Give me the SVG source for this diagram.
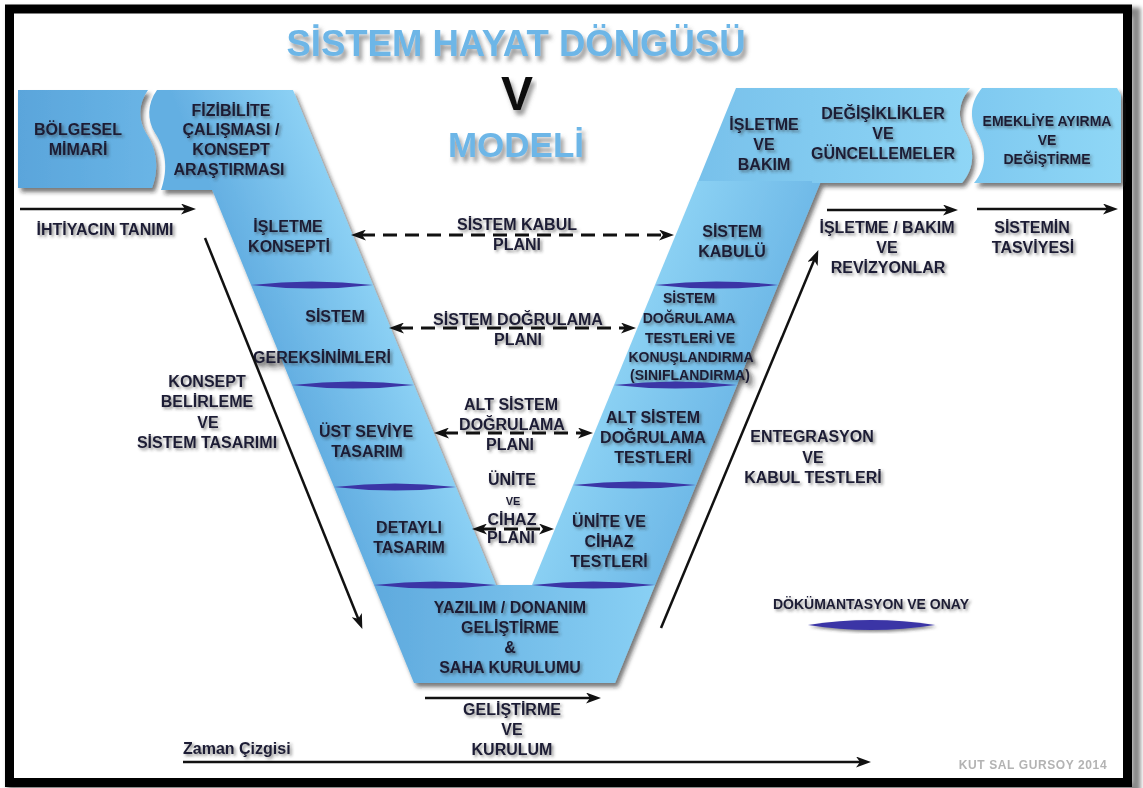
<svg xmlns="http://www.w3.org/2000/svg" width="1143" height="788" viewBox="0 0 1143 788">
  <defs>
    <style>
      .lbl { font-family: "Liberation Sans", Arial, sans-serif; font-weight: bold; font-size: 16px; fill: #1d1d35; text-anchor: middle; }
      .sm { font-size: 14px; }
      .xs { font-size: 11px; }
      .ttl { font-family: "Liberation Sans", Arial, sans-serif; font-weight: bold; text-anchor: middle; fill: #6db6e7; }
      .sep { fill: #3b35a6; }
      .solid { stroke: #111; stroke-width: 2.5; fill: none; marker-end: url(#ah); }
      .dash { stroke: #111; stroke-width: 3; fill: none; stroke-dasharray: 14 8; marker-start: url(#ah); marker-end: url(#ah); }
    </style>
    <filter id="tsh" x="-20%" y="-40%" width="140%" height="180%">
      <feDropShadow dx="2" dy="2" stdDeviation="1.4" flood-color="#333" flood-opacity="0.55"/>
    </filter>
    <filter id="titleSh" x="-10%" y="-30%" width="120%" height="160%">
      <feDropShadow dx="3" dy="5" stdDeviation="2" flood-color="#555" flood-opacity="0.6"/>
    </filter>
    <filter id="shapeSh" x="-5%" y="-5%" width="110%" height="115%">
      <feDropShadow dx="3" dy="4" stdDeviation="2" flood-color="#222" flood-opacity="0.6"/>
    </filter>
    <filter id="frameSh" x="-2%" y="-2%" width="104%" height="104%">
      <feGaussianBlur stdDeviation="2"/>
    </filter>
    <!-- left arm: darker outer edge, lighter inner edge -->
    <linearGradient id="gLeft" gradientUnits="userSpaceOnUse" x1="292" y1="385" x2="396" y2="342">
      <stop offset="0" stop-color="#64afe2"/>
      <stop offset="1" stop-color="#8bd0f4"/>
    </linearGradient>
    <!-- right arm: lighter inner edge, slightly darker outer edge -->
    <linearGradient id="gRight" gradientUnits="userSpaceOnUse" x1="614" y1="385" x2="718" y2="428">
      <stop offset="0" stop-color="#8ad0f3"/>
      <stop offset="1" stop-color="#70bae8"/>
    </linearGradient>
    <linearGradient id="gBottom" gradientUnits="userSpaceOnUse" x1="374" y1="0" x2="655" y2="0">
      <stop offset="0" stop-color="#5faade"/>
      <stop offset="1" stop-color="#89d0f4"/>
    </linearGradient>
    <linearGradient id="gBand" gradientUnits="userSpaceOnUse" x1="700" y1="0" x2="975" y2="0">
      <stop offset="0" stop-color="#78c1eb"/>
      <stop offset="1" stop-color="#8fd6f6"/>
    </linearGradient>
    <linearGradient id="gEnd" gradientUnits="userSpaceOnUse" x1="975" y1="0" x2="1121" y2="0">
      <stop offset="0" stop-color="#7fc9f0"/>
      <stop offset="1" stop-color="#8fd7f6"/>
    </linearGradient>
    <linearGradient id="gStart" gradientUnits="userSpaceOnUse" x1="18" y1="0" x2="158" y2="0">
      <stop offset="0" stop-color="#5aa5db"/>
      <stop offset="1" stop-color="#6ab5e6"/>
    </linearGradient>
    <marker id="ah" viewBox="0 0 15 11" refX="5" refY="5.5" markerWidth="15" markerHeight="11" markerUnits="userSpaceOnUse" orient="auto-start-reverse">
      <path d="M0,0 L15,5.5 L0,11 L4,5.5 Z" fill="#111"/>
    </marker>
  </defs>

  <!-- page and frame -->
  <rect width="1143" height="788" fill="#fff"/>
  <rect x="12" y="12" width="1124" height="776" fill="none" stroke="#888" stroke-width="9" filter="url(#frameSh)"/>
  <rect x="9.5" y="9" width="1118" height="773.5" fill="#fff" stroke="#000" stroke-width="9"/>

  <!-- title -->
  <g id="title">
    <text class="ttl" x="516" y="56" font-size="36.5" filter="url(#titleSh)">SİSTEM HAYAT DÖNGÜSÜ</text>
    <text class="ttl" x="517" y="110" font-size="48" style="fill:#111" filter="url(#titleSh)">V</text>
    <text class="ttl" x="516" y="157" font-size="35" filter="url(#titleSh)">MODELİ</text>
  </g>

  <!-- V model stages -->
  <g id="stages" filter="url(#shapeSh)">
    <g id="bolgesel-mimari">
      <path d="M18,90 H148 C138,104 138,120 146,133 C156,148 160,168 152,188 H18 Z" fill="url(#gStart)"/>
      <text class="lbl" filter="url(#tsh)"><tspan x="78" y="135">BÖLGESEL</tspan><tspan x="78" y="155">MİMARİ</tspan></text>
    </g>
    <g id="fizibilite">
      <path d="M157,90 H293 L334,190 H161 C169,168 165,148 155,133 C147,120 147,104 157,90 Z" fill="url(#gLeft)"/>
      <text class="lbl" filter="url(#tsh)"><tspan x="231" y="116">FİZİBİLİTE</tspan><tspan x="231" y="135">ÇALIŞMASI /</tspan><tspan x="231" y="155">KONSEPT</tspan><tspan x="229" y="175">ARAŞTIRMASI</tspan></text>
    </g>
    <g id="isletme-konsepti">
      <path d="M211,187 L333,187 L373,285 L251,285 Z" fill="url(#gLeft)"/>
      <text class="lbl" filter="url(#tsh)"><tspan x="288" y="232">İŞLETME</tspan><tspan x="289" y="252">KONSEPTİ</tspan></text>
    </g>
    <g id="sistem-gereksinimleri">
      <path d="M251,285 L373,285 L414,385 L292,385 Z" fill="url(#gLeft)"/>
      <text class="lbl" filter="url(#tsh)"><tspan x="335" y="322">SİSTEM</tspan><tspan x="322" y="363">GEREKSİNİMLERİ</tspan></text>
    </g>
    <g id="ust-seviye-tasarim">
      <path d="M292,385 L414,385 L456,487 L334,487 Z" fill="url(#gLeft)"/>
      <text class="lbl" filter="url(#tsh)"><tspan x="366" y="437">ÜST SEVİYE</tspan><tspan x="367" y="457">TASARIM</tspan></text>
    </g>
    <g id="detayli-tasarim">
      <path d="M334,487 L456,487 L496,585 L374,585 Z" fill="url(#gLeft)"/>
      <text class="lbl" filter="url(#tsh)"><tspan x="409" y="533">DETAYLI</tspan><tspan x="409" y="553">TASARIM</tspan></text>
    </g>
    <g id="yazilim-donanim">
      <path d="M374,585 L655,585 L615,683 L414,683 Z" fill="url(#gBottom)"/>
      <text class="lbl" filter="url(#tsh)"><tspan x="510" y="613">YAZILIM / DONANIM</tspan><tspan x="510" y="633">GELİŞTİRME</tspan><tspan x="510" y="653">&amp;</tspan><tspan x="510" y="673">SAHA KURULUMU</tspan></text>
    </g>
    <g id="unite-cihaz-testleri">
      <path d="M532,585 L655,585 L696,485 L573,485 Z" fill="url(#gRight)"/>
      <text class="lbl" filter="url(#tsh)"><tspan x="609" y="527">ÜNİTE VE</tspan><tspan x="609" y="547">CİHAZ</tspan><tspan x="609" y="567">TESTLERİ</tspan></text>
    </g>
    <g id="alt-sistem-testleri">
      <path d="M573,485 L696,485 L737,385 L614,385 Z" fill="url(#gRight)"/>
      <text class="lbl" filter="url(#tsh)"><tspan x="653" y="423">ALT SİSTEM</tspan><tspan x="653" y="443">DOĞRULAMA</tspan><tspan x="653" y="463">TESTLERİ</tspan></text>
    </g>
    <g id="sistem-dogrulama-testleri">
      <path d="M614,385 L737,385 L778,285 L655,285 Z" fill="url(#gRight)"/>
      <text class="lbl sm" filter="url(#tsh)"><tspan x="689" y="303">SİSTEM</tspan><tspan x="689" y="323">DOĞRULAMA</tspan><tspan x="690" y="343">TESTLERİ VE</tspan><tspan x="691" y="362">KONUŞLANDIRMA</tspan><tspan x="690" y="380">(SINIFLANDIRMA)</tspan></text>
    </g>
    <g id="isletme-bakim">
      <path d="M736,88 H814 V184 H697 Z" fill="url(#gBand)"/>
      <text class="lbl" filter="url(#tsh)"><tspan x="764" y="130">İŞLETME</tspan><tspan x="764" y="150">VE</tspan><tspan x="764" y="170">BAKIM</tspan></text>
    </g>
    <g id="sistem-kabulu">
      <path d="M698,181 L821,181 L778,285 L655,285 Z" fill="url(#gRight)"/>
      <text class="lbl" filter="url(#tsh)"><tspan x="732" y="237">SİSTEM</tspan><tspan x="732" y="257">KABULÜ</tspan></text>
    </g>
    <g id="degisiklikler">
      <path d="M812,88 H970 C960,100 956,115 965,132 C975,150 975,168 962,183 H812 Z" fill="url(#gBand)"/>
      <text class="lbl" filter="url(#tsh)"><tspan x="883" y="119">DEĞİŞİKLİKLER</tspan><tspan x="883" y="139">VE</tspan><tspan x="883" y="159">GÜNCELLEMELER</tspan></text>
    </g>
    <g id="emekliye-ayirma">
      <path d="M982,88 H1117 L1121,95 V183 H974 C987,168 987,150 977,132 C968,115 972,100 982,88 Z" fill="url(#gEnd)"/>
      <text class="lbl sm" filter="url(#tsh)"><tspan x="1047" y="126">EMEKLİYE AYIRMA</tspan><tspan x="1047" y="145">VE</tspan><tspan x="1047" y="164">DEĞİŞTİRME</tspan></text>
    </g>

    <!-- documentation / approval milestones between stages -->
    <g id="milestones">
      <path class="sep" d="M251,285 Q312,278 373,285 Q312,292 251,285 Z"/>
      <path class="sep" d="M292,385 Q353,378 414,385 Q353,392 292,385 Z"/>
      <path class="sep" d="M334,487 Q395,480 456,487 Q395,494 334,487 Z"/>
      <path class="sep" d="M374,585 Q435,578 496,585 Q435,592 374,585 Z"/>
      <path class="sep" d="M655,285 Q716,278 778,285 Q716,292 655,285 Z"/>
      <path class="sep" d="M614,385 Q675,378 737,385 Q675,392 614,385 Z"/>
      <path class="sep" d="M573,485 Q634,478 696,485 Q634,492 573,485 Z"/>
      <path class="sep" d="M532,585 Q593,578 655,585 Q593,592 532,585 Z"/>
    </g>
  </g>

  <!-- connectors -->
  <g id="connectors">
    <line class="dash" x1="361" y1="235" x2="664" y2="235"/>
    <line class="dash" x1="399" y1="328" x2="626" y2="328"/>
    <line class="dash" x1="444" y1="433" x2="583" y2="433"/>
    <line class="dash" x1="482" y1="529" x2="544" y2="529"/>
    <line class="solid" x1="20" y1="209" x2="186" y2="209"/>
    <line class="solid" x1="827" y1="210" x2="948" y2="210"/>
    <line class="solid" x1="977" y1="209" x2="1108" y2="209"/>
    <line class="solid" x1="425" y1="698" x2="591" y2="698"/>
    <line class="solid" x1="183" y1="762" x2="861" y2="762"/>
    <line class="solid" x1="205" y1="238" x2="358.6" y2="619.7"/>
    <line class="solid" x1="661" y1="628" x2="814.5" y2="259.3"/>
  </g>

  <!-- connector and phase labels -->
  <g id="labels">
    <text class="lbl" filter="url(#tsh)"><tspan x="517" y="230">SİSTEM KABUL</tspan><tspan x="517" y="250">PLANI</tspan></text>
    <text class="lbl" filter="url(#tsh)"><tspan x="518" y="325">SİSTEM DOĞRULAMA</tspan><tspan x="518" y="345">PLANI</tspan></text>
    <text class="lbl" filter="url(#tsh)"><tspan x="511" y="410">ALT SİSTEM</tspan><tspan x="512" y="430">DOĞRULAMA</tspan><tspan x="510" y="450">PLANI</tspan></text>
    <text class="lbl" filter="url(#tsh)"><tspan x="512" y="485">ÜNİTE</tspan><tspan x="513" y="505" class="xs">VE</tspan><tspan x="512" y="525">CİHAZ</tspan><tspan x="511" y="543">PLANI</tspan></text>
    <text class="lbl" x="105" y="235" filter="url(#tsh)">İHTİYACIN TANIMI</text>
    <text class="lbl" filter="url(#tsh)"><tspan x="207" y="387">KONSEPT</tspan><tspan x="207" y="407">BELİRLEME</tspan><tspan x="208" y="428">VE</tspan><tspan x="207" y="448">SİSTEM TASARIMI</tspan></text>
    <text class="lbl" filter="url(#tsh)"><tspan x="812" y="442">ENTEGRASYON</tspan><tspan x="813" y="463">VE</tspan><tspan x="813" y="483">KABUL TESTLERİ</tspan></text>
    <text class="lbl" filter="url(#tsh)"><tspan x="887" y="233">İŞLETME / BAKIM</tspan><tspan x="887" y="253">VE</tspan><tspan x="888" y="273">REVİZYONLAR</tspan></text>
    <text class="lbl" filter="url(#tsh)"><tspan x="1032" y="233">SİSTEMİN</tspan><tspan x="1033" y="253">TASVİYESİ</tspan></text>
    <text class="lbl" filter="url(#tsh)"><tspan x="512" y="715">GELİŞTİRME</tspan><tspan x="512" y="735">VE</tspan><tspan x="512" y="755">KURULUM</tspan></text>
    <text class="lbl" x="183" y="754" font-size="14.5" style="text-anchor:start" filter="url(#tsh)">Zaman Çizgisi</text>
  </g>

  <!-- legend -->
  <g id="legend">
    <text class="lbl sm" x="871" y="609" filter="url(#tsh)">DÖKÜMANTASYON VE ONAY</text>
    <path class="sep" d="M808,625 Q871,615 935,625 Q871,635 808,625 Z" filter="url(#tsh)"/>
  </g>

  <text x="1033" y="769" font-family="Liberation Sans, Arial, sans-serif" font-weight="bold" font-size="12" letter-spacing="0.6" fill="#b3b3b3" text-anchor="middle">KUT SAL GURSOY 2014</text>
</svg>
